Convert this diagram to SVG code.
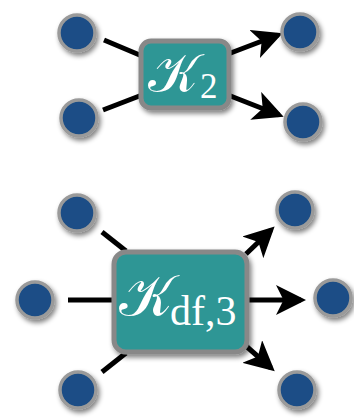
<svg xmlns="http://www.w3.org/2000/svg" width="354" height="419" viewBox="0 0 354 419">
<defs>
<filter id="sh" x="-30%" y="-30%" width="160%" height="160%">
<feGaussianBlur in="SourceAlpha" stdDeviation="2.5"/>
<feOffset dx="2" dy="3" result="b"/>
<feComponentTransfer><feFuncA type="linear" slope="0.5"/></feComponentTransfer>
<feMerge><feMergeNode/><feMergeNode in="SourceGraphic"/></feMerge>
</filter>
<marker id="ah" markerWidth="6" markerHeight="6" refX="5" refY="3" orient="auto" markerUnits="strokeWidth">
<path d="M0,0 L6,3 L0,6 L1.5,3 Z" fill="#000"/>
</marker>
<style>
.n{fill:#1a4e86;stroke:#9a9a9a;stroke-width:3.5}
.b{fill:#2f9695;stroke:#888;stroke-width:5}
.e{stroke:#000;stroke-width:5;fill:none}
.a{marker-end:url(#ah)}
.t{fill:#fff;font-family:"DejaVu Serif","Noto Sans","DejaVu Sans",serif}
.s{fill:#fff;font-family:"Liberation Serif",serif}
</style>
</defs>
<g id="connectors">
<line class="e" x1="104" y1="40" x2="142" y2="56"/>
<line class="e" x1="103" y1="110" x2="142" y2="95"/>
<line class="e a" x1="228" y1="54" x2="278" y2="35"/>
<line class="e a" x1="228" y1="95" x2="279" y2="115"/>
<line class="e" x1="102" y1="232" x2="126" y2="251"/>
<line class="e" x1="68" y1="300" x2="114" y2="300"/>
<line class="e" x1="102" y1="372" x2="126" y2="353"/>
<line class="e a" x1="246" y1="254" x2="271" y2="230"/>
<line class="e a" x1="246" y1="300" x2="301" y2="300"/>
<line class="e a" x1="246" y1="346" x2="271" y2="368"/>
</g>
<g id="k2">
<rect class="b" x="141" y="41" width="88" height="67" rx="10" filter="url(#sh)"/>
<text class="t" x="148" y="92" font-size="54">𝒦</text>
<text class="s" x="200" y="98" font-size="35">2</text>
</g>
<g id="kdf3">
<rect class="b" x="114" y="252" width="133" height="100" rx="12" filter="url(#sh)"/>
<text class="t" x="119" y="316" font-size="58">𝒦</text>
<text class="s" x="170" y="325" font-size="42">df,3</text>
</g>
<g id="n1"><circle class="n" cx="77" cy="33" r="18" filter="url(#sh)"/></g>
<g id="n2"><circle class="n" cx="79" cy="118" r="18" filter="url(#sh)"/></g>
<g id="n3"><circle class="n" cx="300" cy="32" r="18" filter="url(#sh)"/></g>
<g id="n4"><circle class="n" cx="303" cy="122" r="18" filter="url(#sh)"/></g>
<g id="n5"><circle class="n" cx="77" cy="213" r="18" filter="url(#sh)"/></g>
<g id="n6"><circle class="n" cx="35" cy="300" r="18" filter="url(#sh)"/></g>
<g id="n7"><circle class="n" cx="78" cy="390" r="18" filter="url(#sh)"/></g>
<g id="n8"><circle class="n" cx="295" cy="210" r="18" filter="url(#sh)"/></g>
<g id="n9"><circle class="n" cx="333" cy="298" r="18" filter="url(#sh)"/></g>
<g id="n10"><circle class="n" cx="297" cy="390" r="18" filter="url(#sh)"/></g>
</svg>
